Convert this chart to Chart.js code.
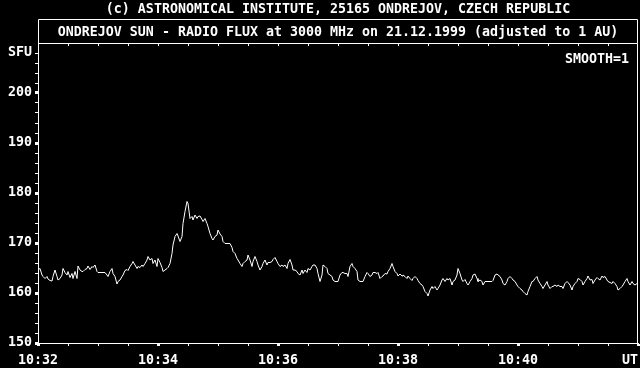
<!DOCTYPE html>
<html>
<head>
<meta charset="utf-8">
<script src="https://cdn.jsdelivr.net/npm/chart.js@4/dist/chart.umd.min.js"></script>
<style>
html,body{margin:0;padding:0;background:#000;}
canvas{display:block;}
</style>
</head>
<body>
<canvas id="c" width="640" height="368"></canvas>
<script>
const titleLine1 = '(c) ASTRONOMICAL INSTITUTE, 25165 ONDREJOV, CZECH REPUBLIC';
const titleLine2 = 'ONDREJOV SUN - RADIO FLUX at 3000 MHz on 21.12.1999 (adjusted to 1 AU)';
const smoothNote = 'SMOOTH=1';

// seconds after 10:32:00 UT
const secondsAfter1032 = [0,2,4,5,7,9,10,12,14,15,17,19,20,22,24,25,27,29,30,32,34,35,37,39,40,42,44,45,47,49,50,52,54,55,57,59,60,64,67,69,70,72,74,75,77,79,80,82,84,85,87,89,90,92,94,95,97,99,100,102,104,105,107,109,110,112,114,115,117,119,120,122,124,125,127,129,130,132,134,135,137,139,140,142,144,145,147,149,150,152,154,155,157,159,160,162,164,165,167,169,170,172,174,175,177,179,180,182,184,185,187,189,192,194,195,197,199,200,202,204,205,207,209,210,212,214,215,217,219,220,222,224,225,227,229,230,232,234,235,237,239,240,242,244,245,247,249,250,252,254,255,257,259,260,262,264,265,267,269,270,272,274,275,277,279,280,282,284,285,287,289,290,292,294,295,297,299,300,302,304,305,307,309,310,312,314,315,317,319,320,322,324,325,327,329,330,332,334,335,337,339,340,342,344,345,347,349,350,352,354,355,357,359,360,362,364,365,367,369,370,372,374,375,377,379,380,382,384,385,387,389,390,392,394,395,397,399,400,402,404,405,407,409,410,412,414,415,417,419,420,422,424,425,427,429,430,432,434,435,437,439,440,442,444,445,447,449,450,452,454,455,457,459,460,462,464,465,467,469,470,472,474,475,477,479,480,482,484,485,487,489,490,492,494,495,497,499,500,502,504,505,507,509,510,512,514,515,517,519,520,522,524,525,527,529,530,532,534,535,537,539,540,542,544,545,547,549,550,552,554,555,557,559,560,562,564,565,567,569,570,572,574,575,577,579,580,582,584,585,587,589,590,592,594,595,597,599,600];

// radio flux, SFU
const fluxSFU = [164.6,164.9,163.6,163.3,162.9,163.3,162.8,162.5,162.4,163.3,164.6,163.3,162.6,162.9,163.6,164.9,164.1,163.6,164.3,163.1,163.9,162.9,164.3,162.9,165.4,164.6,164.3,164.3,164.7,164.9,165.4,164.7,165.3,165.1,165.6,164.3,164.1,164.1,164.1,163.6,163.3,164.3,164.9,163.9,163.3,161.8,162.3,162.6,163.3,163.6,164.5,164.7,164.5,165.3,165.9,166.3,165.6,164.9,165.3,165.1,165.6,165.3,165.9,166.6,167.3,166.6,166.9,165.9,166.6,165.3,166.9,166.1,165.1,164.3,164.6,164.9,165.1,165.9,167.9,169.6,171.3,171.9,171.4,170.3,171.3,173.9,176.3,178.3,177.9,174.9,175.3,174.6,175.6,174.9,175.3,175.4,174.7,174.3,174.9,173.9,173.3,171.9,170.9,170.6,171.3,171.6,172.6,171.8,171.3,170.3,169.9,169.9,169.9,169.1,168.3,167.9,166.9,166.6,165.9,165.3,165.9,166.3,166.6,167.6,166.6,165.3,166.3,167.3,166.3,165.6,164.6,165.3,165.9,166.6,165.6,166.1,166.1,166.3,166.7,167.1,166.3,165.9,165.3,165.6,165.3,165.6,164.9,165.9,166.7,165.6,164.6,164.6,164.3,163.9,163.6,164.6,163.9,164.6,164.1,164.9,164.6,165.3,165.6,165.6,164.9,163.9,162.3,163.6,165.6,165.3,164.9,163.9,163.6,163.3,162.6,162.3,162.3,162.3,163.6,164.1,164.1,163.9,163.9,163.3,165.3,165.9,165.3,164.9,164.3,162.6,162.3,162.3,162.3,163.3,164.1,163.9,163.3,163.6,164.1,164.1,163.9,164.1,162.9,163.3,163.4,163.9,163.8,164.3,164.9,165.9,165.3,164.3,163.9,163.4,163.8,163.4,163.6,163.3,162.9,163.4,162.9,162.5,162.9,163.3,162.9,162.5,161.9,161.6,161.3,160.3,159.9,159.4,160.6,161.3,160.9,161.3,160.6,160.9,161.6,162.6,162.9,162.3,162.9,162.6,162.9,161.6,162.3,162.6,163.6,164.9,163.9,162.6,162.3,162.7,161.9,161.6,162.3,162.9,163.6,163.8,162.9,162.3,162.6,162.3,161.6,162.3,162.3,162.3,162.3,162.3,162.5,163.6,163.8,163.6,163.3,162.6,161.9,161.6,162.3,162.9,163.3,162.9,162.6,162.3,161.6,161.3,160.9,160.6,160.3,159.9,159.6,160.3,161.3,162.3,162.3,162.9,163.3,162.6,161.9,161.3,160.9,161.6,162.3,161.6,160.9,161.3,161.3,161.6,161.3,161.6,161.3,161.3,160.9,161.9,162.3,162.1,161.6,160.6,161.3,161.9,162.3,162.9,162.7,162.3,161.6,162.3,162.9,163.4,162.6,162.7,161.9,162.6,163.1,162.9,162.6,163.4,163.1,163.3,162.6,162.3,162.1,161.9,162.3,161.9,161.3,160.6,160.9,161.3,161.6,162.3,162.9,162.3,161.6,162.3,161.9,161.6,161.9,161.9];

// x axis: tick every 30 s, labels every 2 min
const xTickLabels = ['10:32','10:34','10:36','10:38','10:40','UT  '];
const xLabelSeconds = [0,120,240,360,480,600];
// y axis: tick every 2 SFU, labels every 10 SFU, unit label on top
const yTickLabels = ['150','160','170','180','190','200','SFU'];
const yLabelValues = [150,160,170,180,190,200,208];

const FONT = {family:"'DejaVu Sans Mono', 'Liberation Mono', monospace", size:13.3, weight:'bold'};
const FONT_CSS = "bold 13.3px 'DejaVu Sans Mono', 'Liberation Mono', monospace";

const frame = {
  id:'frame',
  beforeDraw(chart){
    const c = chart.ctx;
    c.save(); c.fillStyle='#000'; c.fillRect(0,0,chart.width,chart.height); c.restore();
  },
  afterDraw(chart){
    const c = chart.ctx, a = chart.chartArea, xs = chart.scales.x;
    c.save();
    c.strokeStyle='#fff'; c.lineWidth=1;
    // plot frame (top & right) and title box
    c.beginPath();
    c.moveTo(a.left+0.5, a.top+0.5); c.lineTo(a.right-0.5, a.top+0.5); c.lineTo(a.right-0.5, a.bottom);
    c.moveTo(a.left+0.5, a.top+0.5); c.lineTo(a.left+0.5, 19.5); c.lineTo(a.right-0.5, 19.5); c.lineTo(a.right-0.5, a.top+0.5);
    c.stroke();
    // top axis ticks (inside)
    c.fillStyle='#fff';
    for (let s=30; s<600; s+=30){
      const px = Math.round(xs.getPixelForValue(s));
      c.fillRect(px, a.top+1, 1, 2);
    }
    // texts
    c.font = FONT_CSS; c.fillStyle='#fff'; c.textBaseline='middle'; c.textAlign='center';
    const cx = (a.left+a.right)/2;
    c.fillText(titleLine1, cx, 10);
    c.fillText(titleLine2, cx, 33);
    c.textAlign='right';
    c.fillText(smoothNote, a.right-9, 60);
    c.restore();
  }
};

new Chart(document.getElementById('c'), {
  type:'line',
  data:{datasets:[{
    data: secondsAfter1032.map((s,i)=>({x:s, y:fluxSFU[i]})),
    borderColor:'#fff', borderWidth:1, pointRadius:0, tension:0, fill:false
  }]},
  options:{
    responsive:false, animation:false, events:[],
    layout:{padding:{top:43, right:2, left:0, bottom:0}},
    plugins:{legend:{display:false}, tooltip:{enabled:false}, title:{display:false}},
    scales:{
      x:{
        type:'linear', min:0, max:600,
        afterBuildTicks:(s)=>{ const t=[]; for(let v=0; v<=600; v+=30) t.push({value:v}); s.ticks=t; },
        afterFit:(s)=>{ s.height = 25; s.paddingLeft = 0; s.paddingRight = 0; },
        ticks:{
          color:'#fff', font:FONT, maxRotation:0, minRotation:0, autoSkip:false, padding:7,
          callback:(v)=>{ const i = xLabelSeconds.indexOf(v); return i>=0 ? xTickLabels[i] : ''; }
        },
        grid:{drawOnChartArea:false, drawTicks:true, tickLength:3, tickColor:'#fff',
              tickWidth:(ctx)=> (ctx.tick && ctx.tick.value % 120 === 0) ? 3 : 1},
        border:{display:true, color:'#fff', width:1}
      },
      y:{
        type:'linear', min:150, max:210,
        afterBuildTicks:(s)=>{ const t=[]; for(let v=150; v<=208; v+=2) t.push({value:v}); s.ticks=t; },
        afterFit:(s)=>{ s.width = 38; s.paddingTop = 0; s.paddingBottom = 0; },
        ticks:{
          color:'#fff', font:FONT, padding:3, autoSkip:false,
          callback:(v)=>{ const i = yLabelValues.indexOf(v); return i>=0 ? yTickLabels[i] : ''; }
        },
        grid:{drawOnChartArea:false, drawTicks:true, tickLength:3, tickColor:'#fff',
              tickWidth:(ctx)=> (ctx.tick && ctx.tick.value % 10 === 0) ? 3 : 1},
        border:{display:true, color:'#fff', width:1}
      }
    }
  },
  plugins:[frame]
});
</script>
</body>
</html>
